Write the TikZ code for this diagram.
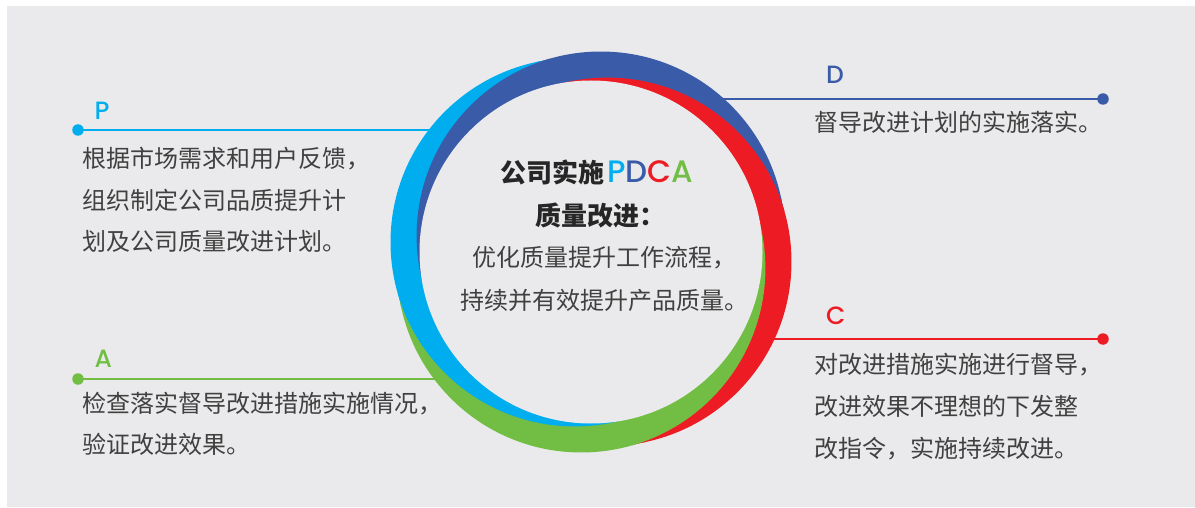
\documentclass[tikz,border=0pt]{standalone}
\usepackage{fontspec}
\setmainfont{Liberation Sans}
\newfontfamily\cjk{Noto Sans CJK SC}
\newfontfamily\geo{Poppins}[UprightFont=* Medium]
\definecolor{bg}{HTML}{EAEAEC}
\definecolor{pc}{HTML}{00AEEF}
\definecolor{dc}{HTML}{3A5BA8}
\definecolor{cc}{HTML}{ED1C24}
\definecolor{ac}{HTML}{72BE44}
\definecolor{txt}{HTML}{404040}
\definecolor{txtb}{HTML}{262626}
\tikzset{
  lbl/.style={anchor=base west, inner sep=0pt, font=\geo\fontsize{25}{25}\selectfont},
  body/.style={anchor=base west, inner sep=0pt, text=txt, font=\cjk\fontsize{24}{24}\selectfont},
  boldtxt/.style={anchor=base west, inner sep=0pt, text=txtb, font=\cjk\bfseries\fontsize{26}{26}\selectfont},
  lead/.style={line width=2.2pt},
  dotnode/.style={circle, inner sep=0pt, minimum size=11.5pt},
}
\begin{document}
\begin{tikzpicture}[x=1pt,y=1pt]
\useasboundingbox (0,0) rectangle (1195,507);
\fill[white] (0,0) rectangle (1195,507);
\fill[bg] (7,0) rectangle (1195,501);
\coordinate (O) at (591,255);
% connectors (behind the ring)
\node[dotnode,fill=pc] (pdot) at (78,377) {};
\coordinate (pend) at (470,377);
\draw[lead,pc] (pdot.center) -- (pend);
\node[dotnode,fill=dc] (ddot) at (1103,408) {};
\coordinate (dend) at (700,408);
\draw[lead,dc] (ddot.center) -- (dend);
\node[dotnode,fill=cc] (cdot) at (1103,168) {};
\coordinate (cend) at (760,168);
\draw[lead,cc] (cdot.center) -- (cend);
\node[dotnode,fill=ac] (adot) at (78,128) {};
\coordinate (aend) at (470,128);
\draw[lead,ac] (adot.center) -- (aend);
% ring: four offset discs with cyclic overlap
\def\RR{184.2pt}
\def\DD{19pt}
\begin{scope}
  \clip (O) -- ([shift={(102:400pt)}]O) -- ([shift={(149:560pt)}]O) -- ([shift={(196:400pt)}]O) -- cycle;
  \begin{scope}[transparency group]
  \fill[ac] ([shift={(-121:\DD)}]O) circle[radius=\RR];
  \fill[pc] ([shift={(149:\DD)}]O) circle[radius=\RR];
  \fill[dc] ([shift={(59:\DD)}]O) circle[radius=\RR];
  \end{scope}
\end{scope}
\begin{scope}
  \clip (O) -- ([shift={(12:400pt)}]O) -- ([shift={(59:560pt)}]O) -- ([shift={(106:400pt)}]O) -- cycle;
  \begin{scope}[transparency group]
  \fill[pc] ([shift={(149:\DD)}]O) circle[radius=\RR];
  \fill[dc] ([shift={(59:\DD)}]O) circle[radius=\RR];
  \fill[cc] ([shift={(-31:\DD)}]O) circle[radius=\RR];
  \end{scope}
\end{scope}
\begin{scope}
  \clip (O) -- ([shift={(-78:400pt)}]O) -- ([shift={(-31:560pt)}]O) -- ([shift={(16:400pt)}]O) -- cycle;
  \begin{scope}[transparency group]
  \fill[dc] ([shift={(59:\DD)}]O) circle[radius=\RR];
  \fill[cc] ([shift={(-31:\DD)}]O) circle[radius=\RR];
  \fill[ac] ([shift={(-121:\DD)}]O) circle[radius=\RR];
  \end{scope}
\end{scope}
\begin{scope}
  \clip (O) -- ([shift={(192:400pt)}]O) -- ([shift={(239:560pt)}]O) -- ([shift={(286:400pt)}]O) -- cycle;
  \begin{scope}[transparency group]
  \fill[cc] ([shift={(-31:\DD)}]O) circle[radius=\RR];
  \fill[ac] ([shift={(-121:\DD)}]O) circle[radius=\RR];
  \fill[pc] ([shift={(149:\DD)}]O) circle[radius=\RR];
  \end{scope}
\end{scope}
\fill[bg] (O) circle[radius=171.5pt];
% labels
\node[lbl,text=pc] (plbl) at (94.5,387) {P};
\node[lbl,text=dc] (dlbl) at (826,423) {D};
\node[lbl,text=cc] (clbl) at (826,183) {C};
\node[lbl,text=ac] (albl) at (94.5,140) {A};
% left texts
\node[body] (p1) at (82,339.6) {根据市场需求和用户反馈，};
\node[body] (p2) at (82,297.1) {组织制定公司品质提升计};
\node[body] (p3) at (82,256.9) {划及公司质量改进计划。};
\node[body] (a1) at (82,95) {检查落实督导改进措施实施情况，};
\node[body] (a2) at (82,53.4) {验证改进效果。};
% right texts
\node[body] (d1) at (814,375) {督导改进计划的实施落实。};
\node[body] (c1) at (814,133.9) {对改进措施实施进行督导，};
\node[body] (c2) at (814,91.9) {改进效果不理想的下发整};
\node[body] (c3) at (814,49.9) {改指令，实施持续改进。};
% centre text
\node[boldtxt] (m1) at (500,324) {公司实施\hspace{3pt}{\geo\mdseries\fontsize{31}{31}\selectfont\textcolor{pc}{P}\textcolor{dc}{D}\textcolor{cc}{C}\textcolor{ac}{A}}};
\node[boldtxt] (m2) at (535,281.3) {质量改进：};
\node[body] (m3) at (472,240.4) {优化质量提升工作流程，};
\node[body] (m4) at (460,197.9) {持续并有效提升产品质量。};
\end{tikzpicture}
\end{document}
